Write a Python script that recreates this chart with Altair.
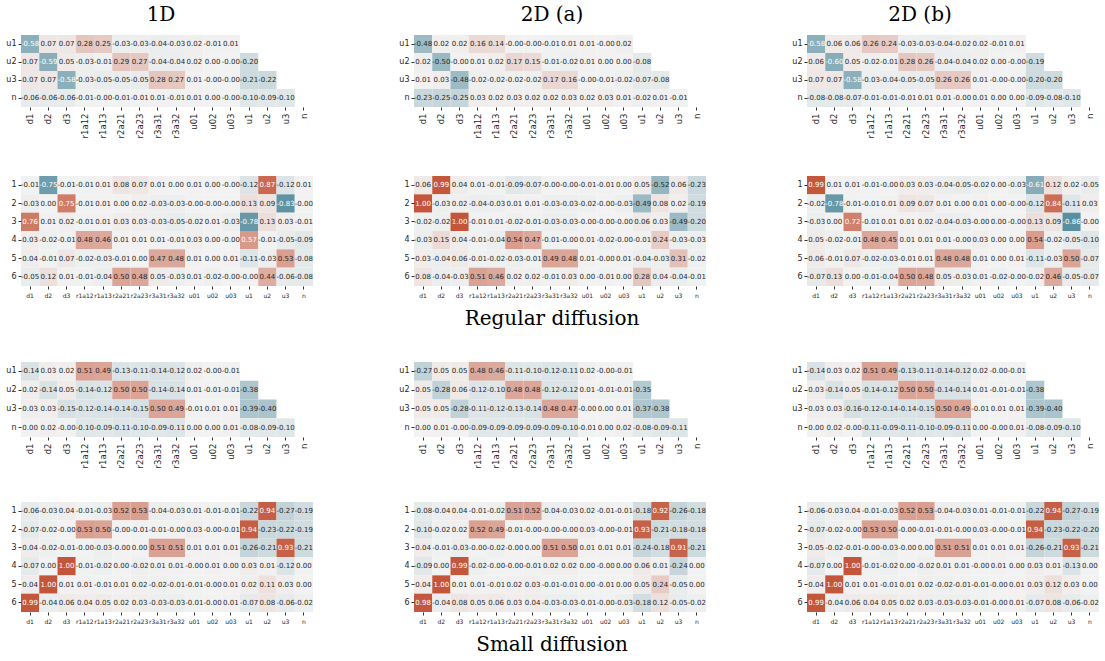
import altair as alt
import pandas as pd

# Feature names along the x axis of every heatmap
COLS = ["d1", "d2", "d3", "r1a12", "r1a13", "r2a21", "r2a23", "r3a31", "r3a32",
        "u01", "u02", "u03", "u1", "u2", "u3", "n"]
TOP_ROWS = ["u1", "u2", "u3", "n"]
MODE_ROWS = ["1", "2", "3", "4", "5", "6"]

# ---- Regular diffusion: correlation with u1, u2, u3, n (lower triangle masked)
reg_top_1d = [
    [-0.58, 0.07, 0.07, 0.28, 0.25, -0.03, -0.03, -0.04, -0.03, 0.02, -0.01, 0.01],
    [0.07, -0.59, 0.05, -0.03, -0.01, 0.29, 0.27, -0.04, -0.04, 0.02, 0.00, -0.00, -0.20],
    [0.07, 0.07, -0.58, -0.03, -0.05, -0.05, -0.05, 0.28, 0.27, 0.01, -0.00, -0.00, -0.21, -0.22],
    [-0.06, -0.06, -0.06, -0.01, -0.00, -0.01, -0.01, 0.01, -0.01, 0.01, 0.00, -0.00, -0.10, -0.09, -0.10],
]
reg_top_2da = [
    [-0.48, 0.02, 0.02, 0.16, 0.14, -0.00, -0.00, -0.01, 0.01, 0.01, -0.00, 0.02],
    [0.02, -0.50, -0.00, 0.01, 0.02, 0.17, 0.15, -0.01, -0.02, 0.01, 0.00, 0.00, -0.08],
    [0.01, 0.03, -0.48, -0.02, -0.02, -0.02, -0.02, 0.17, 0.16, -0.00, -0.01, -0.02, -0.07, -0.08],
    [-0.23, -0.25, -0.25, 0.03, 0.02, 0.03, 0.02, 0.02, 0.03, 0.02, 0.03, 0.01, -0.02, 0.01, -0.01],
]
reg_top_2db = [
    [-0.58, 0.06, 0.06, 0.26, 0.24, -0.03, -0.03, -0.04, -0.02, 0.02, -0.01, 0.01],
    [0.06, -0.60, 0.05, -0.02, -0.01, 0.28, 0.26, -0.04, -0.04, 0.02, 0.00, -0.00, -0.19],
    [0.07, 0.07, -0.58, -0.03, -0.04, -0.05, -0.05, 0.26, 0.26, 0.01, -0.00, -0.00, -0.20, -0.20],
    [-0.08, -0.08, -0.07, -0.01, -0.01, -0.01, 0.01, 0.01, -0.00, 0.01, 0.00, 0.00, -0.09, -0.08, -0.10],
]

# ---- Regular diffusion: correlation with modes 1..6
reg_mode_1d = [
    [-0.01, -0.75, -0.01, -0.01, 0.01, 0.08, 0.07, 0.01, 0.00, 0.01, 0.00, -0.00, -0.12, 0.87, -0.12, 0.01],
    [-0.03, 0.00, 0.75, -0.01, 0.01, 0.00, 0.02, -0.03, -0.03, -0.00, -0.00, -0.00, 0.13, 0.09, -0.83, -0.00],
    [0.76, 0.01, 0.02, -0.01, 0.01, 0.03, 0.03, -0.03, -0.05, -0.02, 0.01, -0.03, -0.78, 0.13, 0.03, -0.01],
    [0.03, -0.02, -0.01, 0.48, 0.46, 0.01, 0.01, 0.01, -0.01, 0.03, 0.00, -0.00, 0.57, -0.01, -0.05, -0.09],
    [0.04, -0.01, 0.07, -0.02, -0.03, -0.01, 0.00, 0.47, 0.48, 0.01, 0.00, 0.01, -0.11, -0.03, 0.53, -0.08],
    [-0.05, 0.12, 0.01, -0.01, -0.04, 0.50, 0.48, 0.05, -0.03, 0.01, -0.02, -0.00, -0.00, 0.44, -0.06, -0.08],
]
reg_mode_2da = [
    [0.06, 0.99, 0.04, 0.01, -0.01, -0.09, -0.07, -0.00, -0.00, -0.01, -0.01, 0.00, 0.05, -0.52, 0.06, -0.23],
    [1.00, -0.03, 0.02, -0.04, -0.03, 0.01, 0.01, -0.03, -0.03, -0.02, -0.00, -0.03, -0.49, 0.08, 0.02, -0.19],
    [-0.02, -0.02, 1.00, -0.01, 0.01, -0.02, -0.01, -0.03, -0.03, -0.00, -0.00, -0.00, 0.06, 0.03, -0.49, -0.20],
    [-0.03, 0.15, 0.04, -0.01, -0.04, 0.54, 0.47, -0.01, -0.00, 0.01, -0.02, -0.00, -0.01, 0.24, -0.03, -0.03],
    [0.03, -0.04, 0.06, -0.01, -0.02, -0.03, -0.01, 0.49, 0.48, 0.01, -0.00, 0.01, -0.04, -0.03, 0.31, -0.02],
    [0.08, -0.04, -0.03, 0.51, 0.46, 0.02, 0.02, -0.01, 0.03, 0.00, -0.01, 0.00, 0.28, 0.04, -0.04, -0.01],
]
reg_mode_2db = [
    [0.99, 0.01, 0.01, -0.01, -0.00, 0.03, 0.03, -0.04, -0.05, -0.02, 0.00, -0.03, -0.61, 0.12, 0.02, -0.05],
    [-0.02, -0.78, -0.01, -0.01, 0.01, 0.09, 0.07, 0.01, 0.00, 0.01, 0.00, -0.00, -0.12, 0.84, -0.11, 0.03],
    [-0.03, 0.00, 0.72, -0.01, 0.01, 0.01, 0.02, -0.04, -0.03, -0.00, 0.00, -0.00, 0.13, 0.09, -0.86, -0.00],
    [0.05, -0.02, -0.01, 0.48, 0.45, 0.01, 0.01, 0.01, -0.00, 0.03, 0.00, 0.00, 0.54, -0.02, -0.05, -0.10],
    [0.06, -0.01, 0.07, -0.02, -0.03, -0.01, 0.01, 0.48, 0.48, 0.01, 0.00, 0.01, -0.11, -0.03, 0.50, -0.07],
    [-0.07, 0.13, 0.00, -0.01, -0.04, 0.50, 0.48, 0.05, -0.03, 0.01, -0.02, -0.00, -0.02, 0.46, -0.05, -0.07],
]

# ---- Small diffusion: correlation with u1, u2, u3, n
small_top_1d = [
    [-0.14, 0.03, 0.02, 0.51, 0.49, -0.13, -0.11, -0.14, -0.12, 0.02, -0.00, -0.01],
    [0.02, -0.14, 0.05, -0.14, -0.12, 0.50, 0.50, -0.14, -0.14, 0.01, -0.01, -0.01, -0.38],
    [0.03, 0.03, -0.15, -0.12, -0.14, -0.14, -0.15, 0.50, 0.49, -0.01, 0.01, 0.01, -0.39, -0.40],
    [0.00, 0.02, -0.00, -0.10, -0.09, -0.11, -0.10, -0.09, -0.11, 0.00, 0.00, 0.01, -0.08, -0.09, -0.10],
]
small_top_2da = [
    [-0.27, 0.05, 0.05, 0.48, 0.46, -0.11, -0.10, -0.12, -0.11, 0.02, -0.00, -0.01],
    [0.05, -0.28, 0.06, -0.12, -0.10, 0.48, 0.48, -0.12, -0.12, 0.01, -0.01, -0.01, -0.35],
    [0.05, 0.05, -0.28, -0.11, -0.12, -0.13, -0.14, 0.48, 0.47, -0.00, 0.00, 0.01, -0.37, -0.38],
    [0.00, 0.01, -0.00, -0.09, -0.09, -0.09, -0.09, -0.09, -0.10, -0.01, 0.00, 0.02, -0.08, -0.09, -0.11],
]
small_top_2db = [
    [-0.14, 0.03, 0.02, 0.51, 0.49, -0.13, -0.11, -0.14, -0.12, 0.02, -0.00, -0.01],
    [0.03, -0.14, 0.05, -0.14, -0.12, 0.50, 0.50, -0.14, -0.14, 0.01, -0.01, -0.01, -0.38],
    [0.03, 0.03, -0.16, -0.12, -0.14, -0.14, -0.15, 0.50, 0.49, -0.01, 0.01, 0.01, -0.39, -0.40],
    [0.00, 0.02, -0.00, -0.11, -0.09, -0.11, -0.10, -0.09, -0.11, 0.00, -0.00, 0.01, -0.08, -0.09, -0.10],
]

# ---- Small diffusion: correlation with modes 1..6
small_mode_1d = [
    [-0.06, -0.03, 0.04, -0.01, -0.03, 0.52, 0.53, -0.04, -0.03, 0.01, -0.01, -0.01, -0.22, 0.94, -0.27, -0.19],
    [-0.07, -0.02, -0.00, 0.53, 0.50, -0.00, -0.01, -0.01, -0.00, 0.03, -0.00, -0.01, 0.94, -0.23, -0.22, -0.19],
    [0.04, -0.02, -0.01, -0.00, -0.03, -0.00, 0.00, 0.51, 0.51, 0.01, 0.01, 0.01, -0.26, -0.21, 0.93, -0.21],
    [-0.07, 0.00, 1.00, -0.01, -0.02, 0.00, -0.02, 0.01, 0.01, -0.00, 0.01, 0.00, 0.03, 0.01, -0.12, 0.00],
    [0.04, 1.00, 0.01, 0.01, -0.01, 0.01, 0.02, -0.02, -0.01, -0.01, -0.00, 0.01, 0.02, 0.11, 0.03, 0.00],
    [0.99, -0.04, 0.06, 0.04, 0.05, 0.02, 0.03, -0.03, -0.03, -0.01, -0.00, 0.01, -0.07, 0.08, -0.06, -0.02],
]
small_mode_2da = [
    [-0.08, -0.04, 0.04, -0.01, -0.02, 0.51, 0.52, -0.04, -0.03, 0.02, -0.01, -0.01, -0.18, 0.92, -0.26, -0.18],
    [-0.10, -0.02, 0.02, 0.52, 0.49, -0.01, -0.00, -0.00, -0.00, 0.03, -0.00, -0.01, 0.93, -0.21, -0.18, -0.18],
    [0.04, -0.01, -0.03, -0.00, -0.02, -0.00, 0.00, 0.51, 0.50, 0.01, 0.01, 0.01, -0.24, -0.18, 0.91, -0.21],
    [-0.09, 0.00, 0.99, -0.02, -0.00, -0.00, -0.01, 0.02, 0.02, 0.00, -0.00, 0.00, 0.06, 0.01, -0.24, 0.00],
    [0.04, 1.00, 0.01, 0.01, -0.01, 0.02, 0.03, -0.01, -0.01, 0.00, -0.01, 0.00, 0.05, 0.24, -0.05, 0.00],
    [0.98, -0.04, 0.08, 0.05, 0.06, 0.03, 0.04, -0.03, -0.03, -0.01, -0.00, -0.03, -0.18, 0.12, -0.05, -0.02],
]
small_mode_2db = [
    [-0.06, -0.03, 0.04, -0.01, -0.03, 0.52, 0.53, -0.04, -0.03, 0.01, -0.01, -0.01, -0.22, 0.94, -0.27, -0.19],
    [-0.07, -0.02, -0.00, 0.53, 0.50, -0.00, -0.01, -0.01, -0.00, 0.03, -0.00, -0.01, 0.94, -0.23, -0.22, -0.20],
    [0.05, -0.02, -0.01, -0.00, -0.03, -0.00, 0.00, 0.51, 0.51, 0.01, 0.01, 0.01, -0.26, -0.21, 0.93, -0.21],
    [-0.07, 0.00, 1.00, -0.01, -0.02, 0.00, -0.02, 0.01, 0.01, -0.00, 0.01, 0.00, 0.03, 0.01, -0.13, 0.00],
    [0.04, 1.00, 0.01, 0.01, -0.01, 0.01, 0.02, -0.02, -0.01, -0.01, -0.00, 0.01, 0.03, 0.12, 0.03, 0.00],
    [0.99, -0.04, 0.06, 0.04, 0.05, 0.02, 0.03, -0.03, -0.03, -0.01, -0.00, 0.01, -0.07, 0.08, -0.06, -0.02],
]

# Diverging blue / light grey / red map, fixed to [-1, 1]
CMAP = alt.Scale(domain=[-1, 0, 1], range=["#407f93", "#f2f2f2", "#c3553a"], interpolate="rgb")
PANEL_W = 292
SANS = "DejaVu Sans"
SERIF = "DejaVu Serif"


def to_frame(rows, matrix):
    records = []
    for r, vals in zip(rows, matrix):
        for c, v in zip(COLS, vals):
            records.append({"row": r, "col": c, "value": v, "label": f"{v:.2f}"})
    return pd.DataFrame(records)


def heatmap(rows, matrix, height, rotated, title=None, dx=0):
    df = to_frame(rows, matrix)
    if rotated:
        x_axis = alt.Axis(title=None, labelAngle=270, labelFontSize=8.5, labelPadding=3,
                          minExtent=34, maxExtent=34)
    else:
        x_axis = alt.Axis(title=None, labelAngle=0, labelFontSize=6, labelPadding=3,
                          minExtent=15, maxExtent=15)
    y_axis = alt.Axis(title=None, labelAngle=0, labelFontSize=8, labelPadding=2,
                      minExtent=16, maxExtent=16)
    base = alt.Chart(df).encode(
        x=alt.X("col:N", sort=COLS, scale=alt.Scale(domain=COLS), axis=x_axis),
        y=alt.Y("row:N", sort=rows, scale=alt.Scale(domain=rows), axis=y_axis),
    )
    cells = base.mark_rect(strokeWidth=0).encode(
        color=alt.Color("value:Q", scale=CMAP, legend=None)
    )
    text = base.mark_text(font=SANS, fontSize=7).encode(
        text="label:N",
        color=alt.condition("abs(datum.value) > 0.545", alt.value("#ffffff"), alt.value("#262626")),
    )
    chart = alt.layer(cells, text).properties(width=PANEL_W, height=height)
    if title:
        chart = chart.properties(title=alt.TitleParams(
            text=title, font=SERIF, fontSize=20, fontWeight="normal", color="#000000",
            anchor="middle", frame="group", dx=dx, offset=10))
    return chart


H_SPACE = 85

reg_row1 = alt.hconcat(
    heatmap(TOP_ROWS, reg_top_1d, 72, True, "1D", -6),
    heatmap(TOP_ROWS, reg_top_2da, 72, True, "2D (a)", -8),
    heatmap(TOP_ROWS, reg_top_2db, 72, True, "2D (b)", -33),
    spacing=H_SPACE,
)
reg_row2 = alt.hconcat(
    heatmap(MODE_ROWS, reg_mode_1d, 110, False),
    heatmap(MODE_ROWS, reg_mode_2da, 110, False),
    heatmap(MODE_ROWS, reg_mode_2db, 110, False),
    spacing=H_SPACE,
)
small_row1 = alt.hconcat(
    heatmap(TOP_ROWS, small_top_1d, 75, True),
    heatmap(TOP_ROWS, small_top_2da, 75, True),
    heatmap(TOP_ROWS, small_top_2db, 75, True),
    spacing=H_SPACE,
)
small_row2 = alt.hconcat(
    heatmap(MODE_ROWS, small_mode_1d, 110, False),
    heatmap(MODE_ROWS, small_mode_2da, 110, False),
    heatmap(MODE_ROWS, small_mode_2db, 110, False),
    spacing=H_SPACE,
)


def group_title(text):
    return alt.TitleParams(text=text, orient="bottom", anchor="middle", font=SERIF,
                           fontSize=20, fontWeight="normal", color="#000000", offset=8)


regular = alt.vconcat(reg_row1, reg_row2, spacing=35, title=group_title("Regular diffusion"))
small = alt.vconcat(small_row1, small_row2, spacing=31, title=group_title("Small diffusion"))

chart = (
    alt.vconcat(regular, small, spacing=33)
    .configure(background="#ffffff", padding=5)
    .configure_view(strokeWidth=0)
    .configure_axis(domain=False, tickSize=3, tickColor="#333333", labelColor="#262626",
                    labelFont=SANS, grid=False)
)

chart.save("out.html", embed_options={"renderer": "svg", "actions": False})
